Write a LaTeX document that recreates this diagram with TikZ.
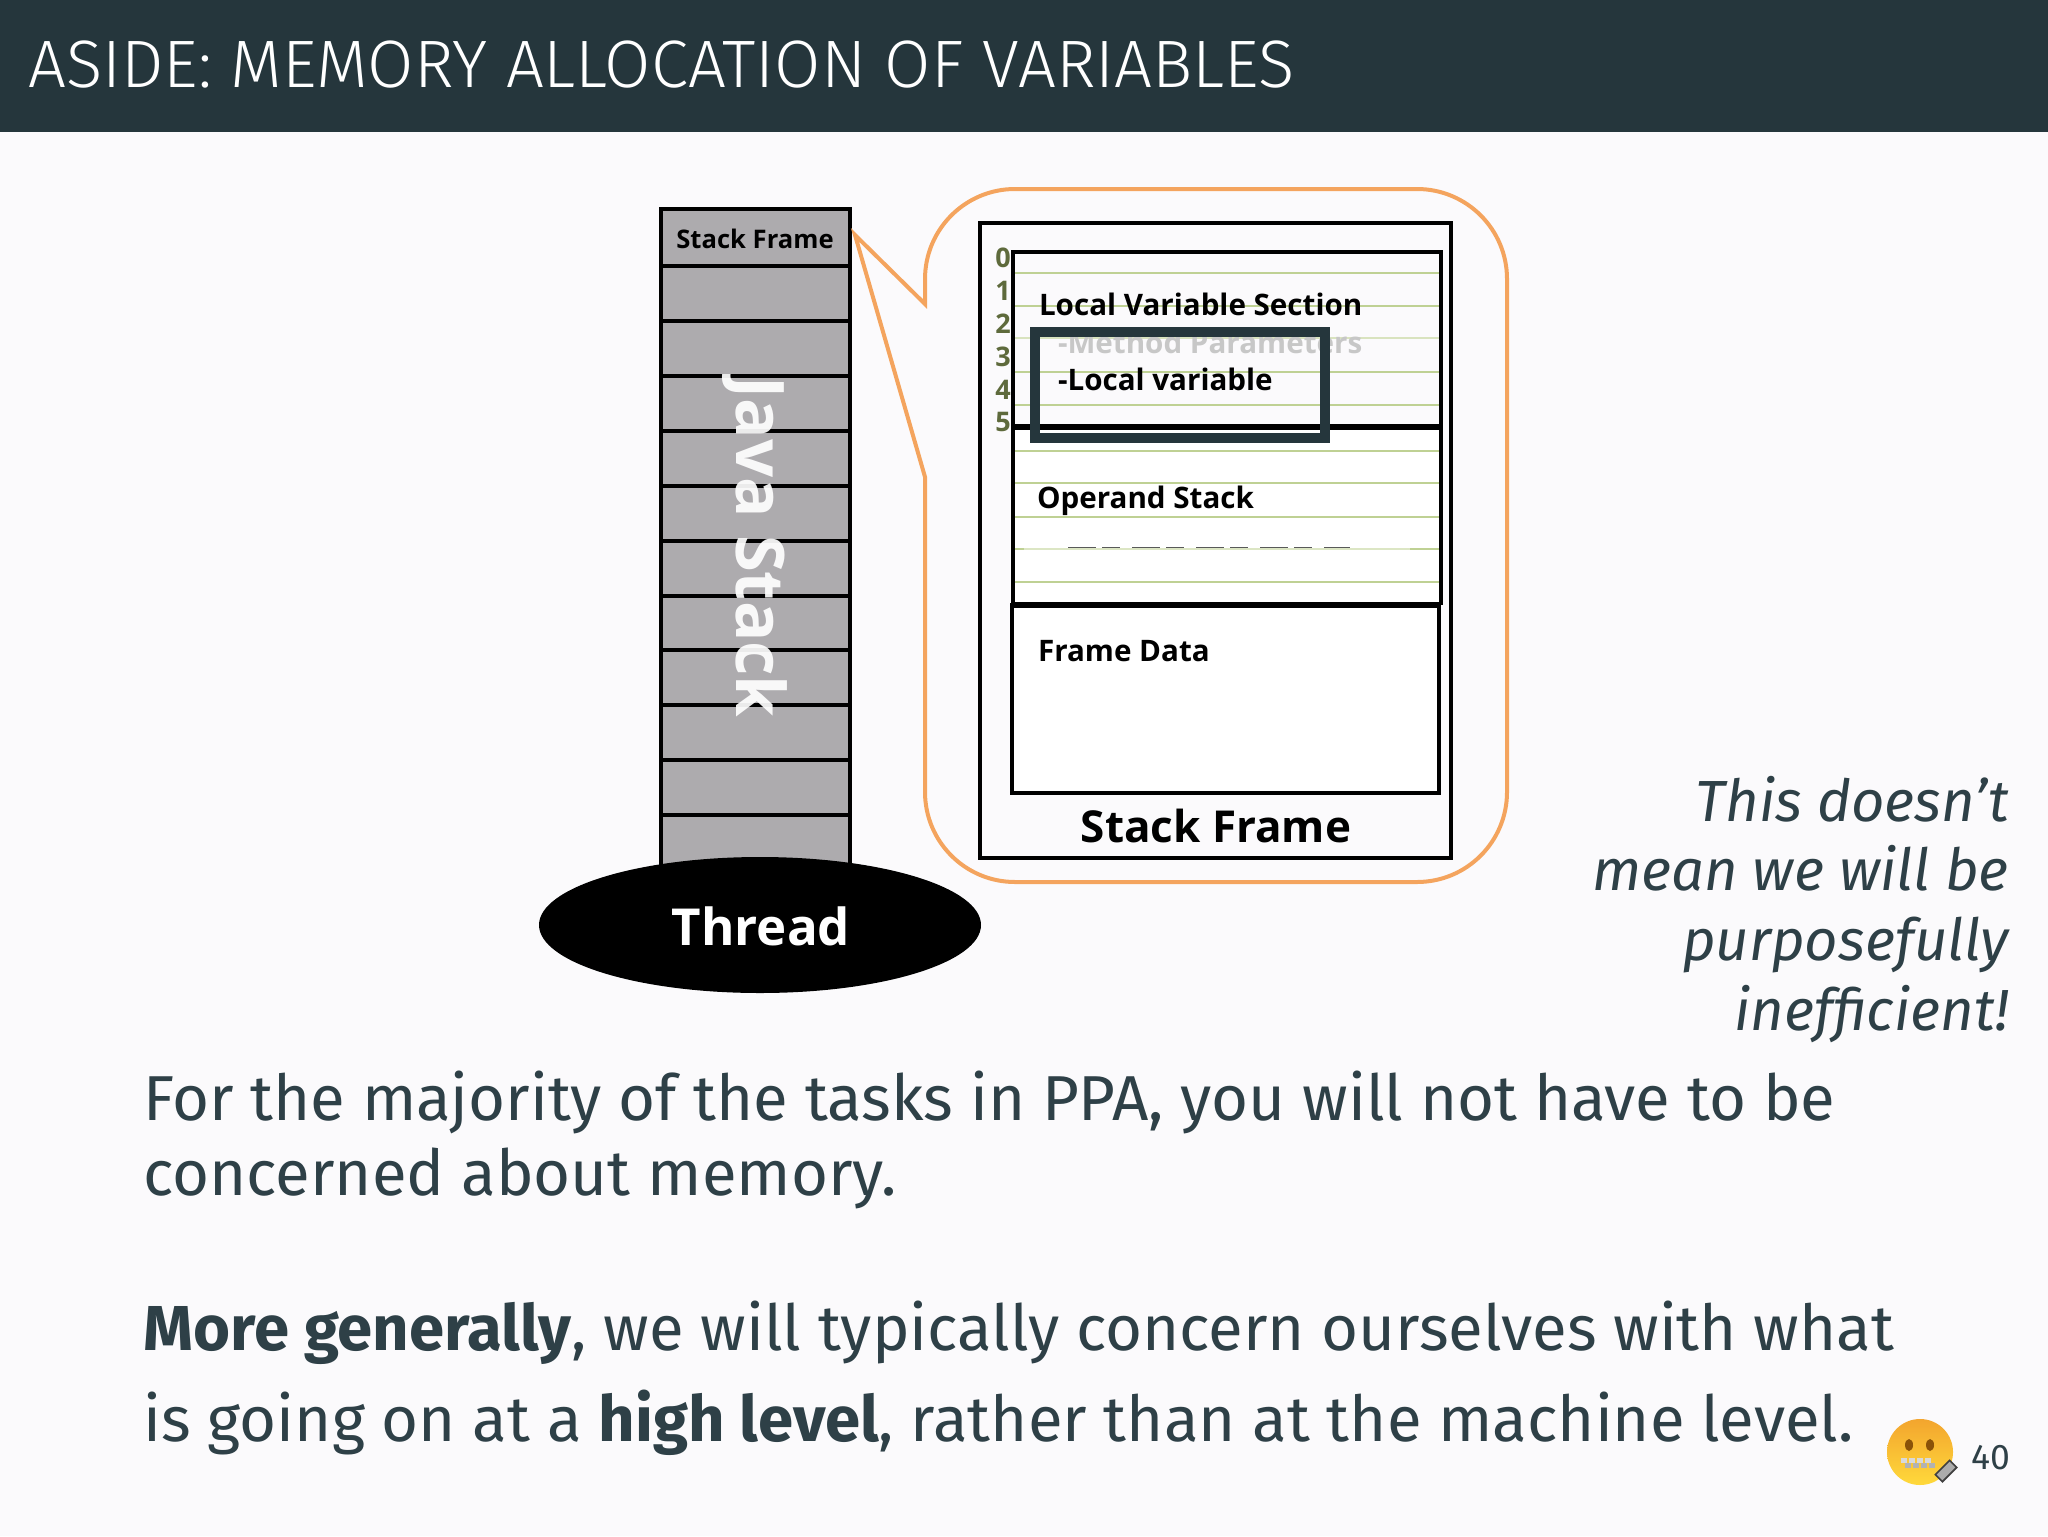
\documentclass[tikz,border=0pt]{standalone}
\usepackage{fontspec}
\setmainfont{Fira Sans}
\newfontfamily\figfont{Open Sans}
\newfontfamily\titlefont{Fira Sans Light}
\usetikzlibrary{shapes.geometric,positioning}
\definecolor{pagebg}{HTML}{FBFAFC}
\definecolor{headbg}{HTML}{25363C}
\definecolor{bodytext}{HTML}{2E4047}
\definecolor{cellgrey}{HTML}{ADABAE}
\definecolor{callout}{HTML}{F4A45E}
\definecolor{rule}{HTML}{BFD194}
\definecolor{olive}{HTML}{5E6A3C}
\definecolor{emotop}{HTML}{F3A52E}
\definecolor{emobot}{HTML}{FFD93B}
\definecolor{emoeye}{HTML}{8A5208}
\newcommand{\fs}[1]{\fontsize{#1}{#1}\selectfont}
\tikzset{
  x=0.5pt,y=-0.5pt,
  fig/.style={inner sep=0pt,outer sep=0pt,font=\figfont\bfseries,text=black},
  small/.style={fig,anchor=west,font=\figfont\bfseries\fs{14.8}},
  bodyline/.style={anchor=base west,inner sep=0pt,text=bodytext,font=\fs{31.75}},
  aside/.style={anchor=base east,inner sep=0pt,text=bodytext,font=\fs{29}\itshape},
  cell/.style={draw=black,line width=1.7pt,fill=cellgrey},
  frameline/.style={draw=black,line width=1.8pt},
  divider/.style={draw=black,line width=3pt},
  greenline/.style={draw=rule,line width=1.4pt},
  idx/.style={fig,text=olive,font=\figfont\bfseries\fs{13.5}}
}
\begin{document}
\begin{tikzpicture}
\useasboundingbox (0,0) rectangle (2048,1536);
\fill[pagebg] (0,0) rectangle (2048,1536);
\fill[headbg] (0,0) rectangle (2048,132);
\node[anchor=base west,inner sep=0pt,text=white,font=\titlefont\fs{33.55}] (title) at (28,88) {ASIDE: MEMORY ALLOCATION OF VARIABLES};

% Java stack
\foreach \t/\b in {209/266,266/321,321/376,376/431,431/486,486/541,541/596,596/650,650/705,705/760,760/815,815/880}
  \draw[cell] (661,\t) rectangle (850,\b);
\node[fig,font=\figfont\bfseries\fs{12.8}] (sf) at (755,239) {Stack Frame};
\begin{scope}
\clip (661,374) rectangle (850,716);
\node[inner sep=0pt,rotate=-90,text=white,opacity=.92,font=\figfont\bfseries\fs{33.5}] (js) at (755,547) {Java Stack};
\end{scope}

% callout
\draw[callout,line width=2pt,miter limit=10,fill=pagebg]
  (925,304) [rounded corners=45pt] -- (925,189) -- (1507,189) -- (1507,882) -- (925,882) [sharp corners]
  -- (925,477) -- (855,235) -- cycle;

\node[ellipse,fill=black,minimum width=221pt,minimum height=68pt,inner sep=0pt] (thr) at (760,925) {};
\node[fig,text=white,font=\figfont\bfseries\fs{25.5}] (thrt) at (761,926) {Thread};

% stack frame
\draw[frameline,fill=pagebg] (980,223) rectangle (1451,858);
\fill[pagebg] (1013,252) rectangle (1441,427);
\fill[white] (1013,427) rectangle (1441,793);
\foreach \y in {273,306,372,405,451,483,517,582}
  \draw[greenline] (1014,\y) -- (1440,\y);
\draw[draw=rule!60,line width=1pt] (1014,338) -- (1440,338);
\draw[draw=rule!55,line width=.6pt] (1014,549) -- (1440,549);
\draw[greenline] (1014,549) -- (1024,549) (1410,549) -- (1440,549);
\draw[black!65,line width=.6pt,dash pattern=on 14pt off 3pt on 9pt off 6pt] (1068,547.5) -- (1350,547.5);
\draw[frameline] (1013,252) rectangle (1441,427);
\draw[frameline] (1013,427) -- (1013,605) (1441,427) -- (1441,605);
\draw[frameline] (1012,605) rectangle (1439,793);
\draw[divider] (1012,427) -- (1441,427);
\draw[divider] (1012,605) -- (1441,605);
\foreach \n/\y in {0/258,1/291,2/324,3/357,4/390,5/422}
  \node[idx] (i\n) at (1003,\y) {\n};

\node[small] (lvs) at (1039,304) {Local Variable Section};
\node[small,text=black!22] (mp) at (1058,342) {-Method Parameters};
\node[small] (lv) at (1058,379) {-Local variable};
\node[small] (os) at (1037,501) {Operand Stack};
\node[small] (fd) at (1038,651) {Frame Data};
\node[fig,font=\figfont\bfseries\fs{22}] (sfb) at (1216,826) {Stack Frame};
\draw[headbg,line width=5pt] (1035,332) rectangle (1325,438);

% aside
\node[aside] (a1) at (2009,821) {This doesn’t};
\node[aside] (a2) at (2009,890) {mean we will be};
\node[aside] (a3) at (2009,960) {purposefully};
\node[aside] (a4) at (2009,1030) {inefficient!};

% body
\node[bodyline] (b1) at (143,1120) {For the majority of the tasks in PPA, you will not have to be};
\node[bodyline] (b2) at (143,1195) {concerned about memory.};
\node[bodyline] (b3) at (143,1350) {\textbf{More generally}, we will typically concern ourselves with what};
\node[bodyline] (b4) at (143,1441) {is going on at a \textbf{high level}, rather than at the machine level.};

% emoji
\shade[top color=emotop,bottom color=emobot] (1920,1452) circle[radius=33];
\fill[emoeye] (1909,1445) ellipse[x radius=4,y radius=6];
\fill[emoeye] (1930,1445) ellipse[x radius=4,y radius=6];
\foreach \x in {1904,1912,1920,1928}{
  \fill[gray!30] (\x-3,1458) rectangle (\x+3,1463);
  \fill[gray!60] (\x+1,1463) rectangle (\x+7,1468);}
\draw[black!75,fill=gray!65,line width=.8pt,rotate around={-45:(1946,1471)}] (1941,1461) rectangle (1951,1481);
% page number
\node[anchor=base east,inner sep=0pt,text=bodytext,font=\fs{17.8}] (pg) at (2011,1469) {40};
\end{tikzpicture}
\end{document}
